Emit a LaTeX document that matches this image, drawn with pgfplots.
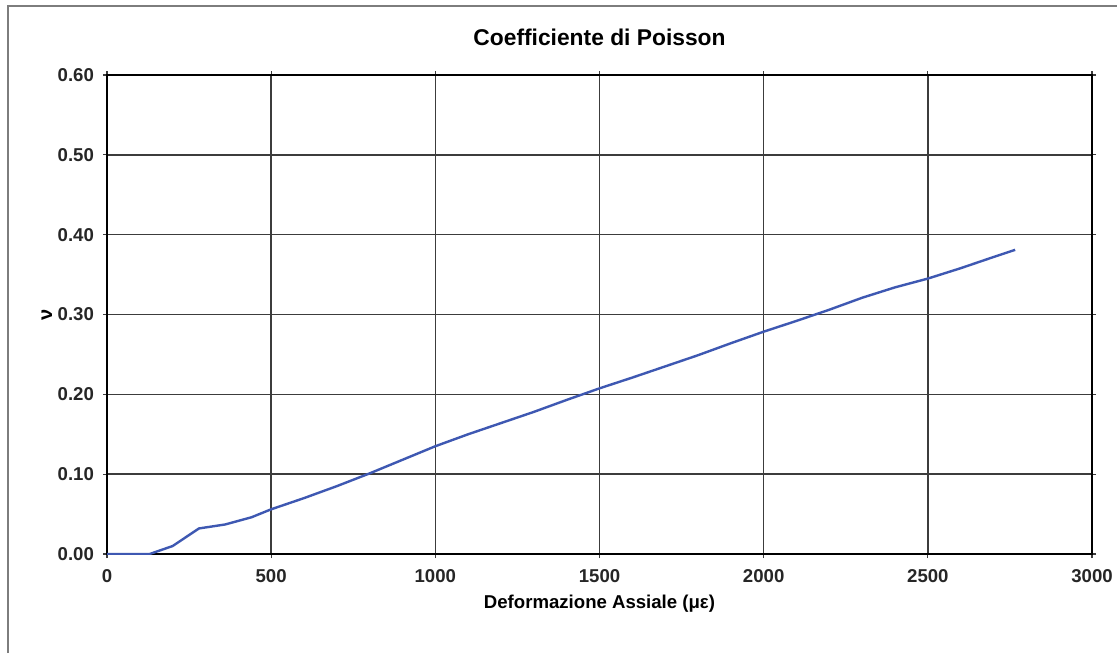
\documentclass[border=0pt]{standalone}
\usepackage{fontspec}
\setmainfont{Liberation Sans}
\usepackage{pgfplots}
\pgfplotsset{compat=1.18}
\definecolor{curve}{RGB}{62,88,178}
\definecolor{gridc}{RGB}{60,60,60}
\definecolor{framec}{RGB}{125,125,125}
\begin{document}
\begin{tikzpicture}[x=1pt,y=1pt]
\useasboundingbox (0,0) rectangle (558.5,326.5);
\fill[white] (0,0) rectangle (558.5,326.5);
\draw[framec,line width=1pt] (4,0) -- (4,323.5) -- (558.5,323.5);
\begin{axis}[
  at={(53.5pt,49.5pt)}, anchor=south west,
  scale only axis, width=492.5pt, height=239.5pt,
  xmin=0, xmax=3000, ymin=0, ymax=0.6,
  xtick={0,500,...,3000}, ytick={0,0.1,...,0.6},
  /pgf/number format/assume math mode=true,
  /pgf/number format/1000 sep={},
  yticklabel style={/pgf/number format/fixed,/pgf/number format/fixed zerofill,/pgf/number format/precision=2},
  tick label style={font=\fontsize{9.3}{11}\selectfont\bfseries, text=black!85},
  xticklabel style={yshift=-2pt},
  yticklabel style={xshift=-1pt},
  tick align=outside, major tick length=2pt,
  tick style={gridc, line width=0.6pt},
  grid=major, major grid style={gridc, line width=0.8pt},
  axis line style={black, line width=1.4pt},
  title={Coefficiente di Poisson},
  title style={at={(axis description cs:0.5,1)}, anchor=center, yshift=13pt, font=\fontsize{11.4}{13}\selectfont\bfseries},
  xlabel={Deformazione Assiale (με)},
  xlabel style={at={(axis description cs:0.5,0)}, anchor=center, yshift=-25pt, font=\fontsize{9.3}{11}\selectfont\bfseries},
  ylabel={ν},
  ylabel style={at={(axis description cs:-0.061,0.5)}, anchor=center, font=\fontsize{10}{12}\selectfont\bfseries},
]
\addplot[curve, line width=1.2pt, line join=round] coordinates {
(0,0) (100,0) (130,0) (200,0.010) (280,0.032) (360,0.037) (440,0.046)
(500,0.056) (600,0.070) (700,0.085) (800,0.101) (900,0.118) (1000,0.135)
(1100,0.150) (1200,0.164) (1300,0.178) (1400,0.193) (1500,0.2075)
(1600,0.221) (1700,0.235) (1800,0.249) (1900,0.264) (2000,0.2785)
(2100,0.292) (2200,0.306) (2300,0.321) (2400,0.334) (2500,0.345)
(2600,0.358) (2700,0.372) (2766,0.381)
};
\end{axis}
\end{tikzpicture}
\end{document}
